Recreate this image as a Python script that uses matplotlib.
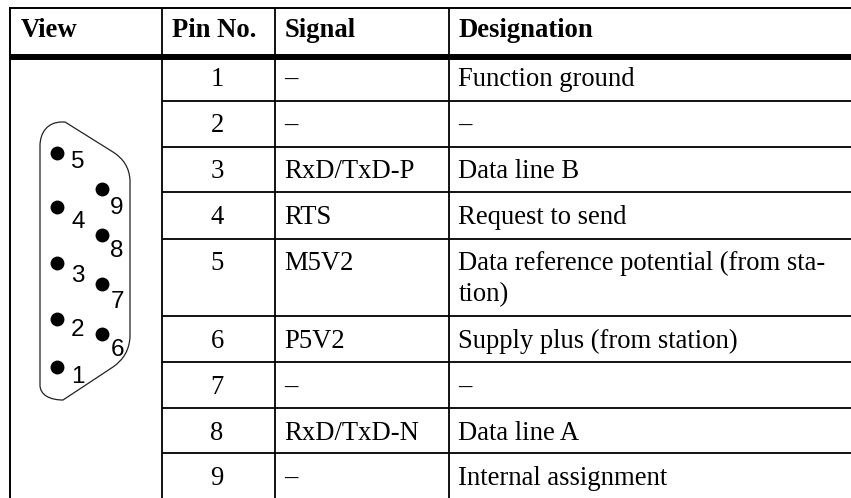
import matplotlib
matplotlib.use("Agg")
import matplotlib.pyplot as plt
from matplotlib.patches import PathPatch
from matplotlib.path import Path

headers = ["View", "Pin No.", "Signal", "Designation"]
pins = ["1", "2", "3", "4", "5", "6", "7", "8", "9"]
signals = ["–", "–", "RxD/TxD-P", "RTS", "M5V2", "P5V2", "–", "RxD/TxD-N", "–"]
designations = [
    "Function ground",
    "–",
    "Data line B",
    "Request to send",
    "Data reference potential (from sta-\ntion)",
    "Supply plus (from station)",
    "–",
    "Data line A",
    "Internal assignment",
]

# pin dots and where their numbers sit, in picture pixels
dot_names = ["1", "2", "3", "4", "5", "6", "7", "8", "9"]
dot_x = [57, 57, 57, 57, 57, 102, 102, 102, 102]
dot_y = [367, 319, 263, 207, 153, 334, 284, 235, 189]
name_x = [78, 78, 78, 78, 78, 117, 117, 117, 117]
name_y = [377, 330, 276, 222, 162, 350, 302, 251, 208]

row_lines = [100.5, 146.5, 192, 238.5, 316, 362, 408, 453]
col_lines = [162, 275, 449]
row_tops = [54, 100, 146, 192, 238, 316, 362, 408, 453]

W, H = 851, 498
fig = plt.figure(figsize=(W / 100, H / 100), dpi=100)
ax = fig.add_axes([0, 0, 1, 1])
ax.set_xlim(0, W)
ax.set_ylim(H, 0)
ax.axis("off")

serif = "Liberation Serif"
size = 19.2

# table rules
ax.plot([10, 10], [7.5, H], color="k", lw=1.4, solid_capstyle="butt")
ax.plot([9, W], [8, 8], color="k", lw=1.4, solid_capstyle="butt")
ax.plot([9, W], [57, 57], color="k", lw=4.3, solid_capstyle="butt")
for x in col_lines:
    ax.plot([x, x], [8, H], color="k", lw=1.3, solid_capstyle="butt")
for y in row_lines:
    ax.plot([162, W], [y, y], color="k", lw=1.3, solid_capstyle="butt")

# header
head_x = [20.5, 171.5, 284.5, 458.5]
for x, t in zip(head_x, headers):
    ax.text(x, 37, t, family=serif, weight="bold", fontsize=size, ha="left", va="baseline")

# rows
for i in range(9):
    y = row_tops[i] + 32
    ax.text(217, y, pins[i], family=serif, fontsize=size, ha="center", va="baseline")
    ax.text(284.5, y, signals[i], family=serif, fontsize=size, ha="left", va="baseline")
    lines = designations[i].split("\n")
    for j, t in enumerate(lines):
        ax.text(458.5, y + j * 31.5, t, family=serif, fontsize=size, ha="left", va="baseline")

# connector outline
verts = [(40, 146), (40, 132), (48, 122), (62, 122), (65, 122), (113, 152), (129, 162), (130, 180),
         (130, 337), (129, 356), (113, 367), (63, 400), (50, 400), (40, 395), (40, 385), (40, 146)]
codes = [Path.MOVETO, Path.CURVE4, Path.CURVE4, Path.CURVE4, Path.LINETO, Path.LINETO, Path.CURVE3, Path.CURVE3,
         Path.LINETO, Path.CURVE3, Path.CURVE3, Path.LINETO, Path.CURVE4, Path.CURVE4, Path.CURVE4, Path.LINETO]
ax.add_patch(PathPatch(Path(verts, codes), fill=False, edgecolor="#222222", lw=0.9))

ax.scatter(dot_x, dot_y, s=100, color="k", linewidths=0, zorder=3)
for x, y, t in zip(name_x, name_y, dot_names):
    ax.text(x, y, t, family="Liberation Sans", fontsize=17.5, ha="center", va="center", zorder=4)

fig.savefig("out.png", dpi=100)
